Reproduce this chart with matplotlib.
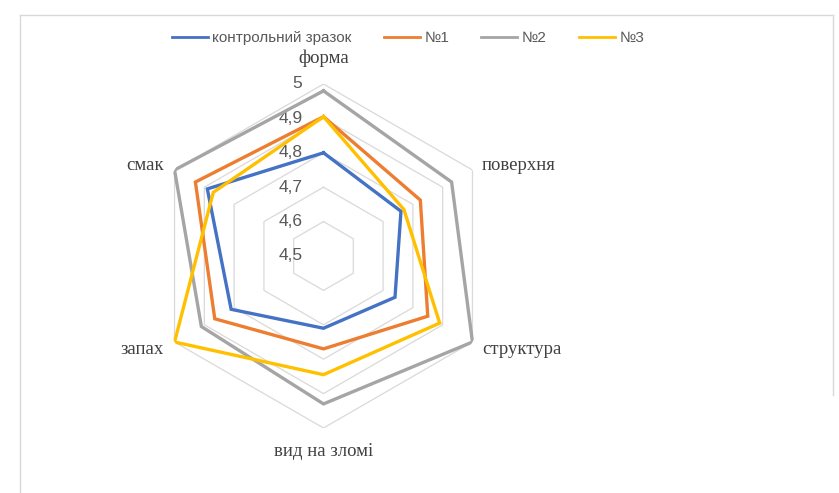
import numpy as np
import matplotlib
matplotlib.use('Agg')
import matplotlib.pyplot as plt
from matplotlib.lines import Line2D

# radar chart: sensory scores of the samples
categories = ['форма', 'поверхня', 'структура', 'вид на зломі', 'запах', 'смак']
control = [4.80, 4.76, 4.74, 4.71, 4.81, 4.89]
n1 = [4.905, 4.825, 4.85, 4.77, 4.865, 4.93]
n2 = [4.98, 4.93, 5.0, 4.93, 4.91, 5.0]
n3 = [4.905, 4.77, 4.89, 4.845, 5.0, 4.87]
series_names = ['контрольний зразок', '№1', '№2', '№3']
ticks = [4.5, 4.6, 4.7, 4.8, 4.9, 5.0]
tick_labels = ['4,5', '4,6', '4,7', '4,8', '4,9', '5']

colors = ['#4472C4', '#ED7D31', '#A5A5A5', '#FFC000']
sans = ['Liberation Sans', 'DejaVu Sans']
serif = ['Liberation Serif', 'DejaVu Serif']

W, H = 839, 493
fig = plt.figure(figsize=(W / 100, H / 100), dpi=100)
cx, cy, R = 323.5, 256, 172
ax = fig.add_axes([(cx - R) / W, (H - cy - R) / H, 2 * R / W, 2 * R / H], projection='polar')
ax.set_theta_offset(np.pi / 2)
ax.set_theta_direction(-1)
ax.set_ylim(4.5, 5.0)
ax.grid(False)
ax.spines['polar'].set_visible(False)
ax.set_xticks([])
ax.set_yticks([])
ax.patch.set_alpha(0)

angles = np.linspace(0, 2 * np.pi, len(categories), endpoint=False)
closed = np.append(angles, angles[0])

# hexagon grid (no spokes)
for t in ticks[1:]:
    ax.plot(closed, [t] * len(closed), color='#d9d9d9', lw=0.9, zorder=1)

for t, lab in zip(ticks, tick_labels):
    ax.annotate(lab, xy=(0, t), xytext=(-21, 0), textcoords='offset pixels',
                ha='right', va='center', fontsize=12.5, color='#595959', family=sans)

for vals, c in zip([control, n1, n2, n3], colors):
    v = np.append(vals, vals[0])
    ax.plot(closed, v, color=c, lw=2.4, zorder=3, solid_joinstyle='miter')

# category labels, offset from the outer ring vertex
label_off = [((0, 26), 'center'), ((9, 5), 'left'), ((10, -8), 'left'),
             ((0, -24), 'center'), ((-11, -7), 'right'), ((-11, 5), 'right')]
for a, name, (off, ha) in zip(angles, categories, label_off):
    ax.annotate(name, xy=(a, 5.0), xytext=off, textcoords='offset pixels',
                ha=ha, va='center', fontsize=13.5, color='#404040', family=serif,
                annotation_clip=False)

handles = [Line2D([], [], color=c, lw=2) for c in colors]
leg = fig.legend(handles, series_names, loc='center', bbox_to_anchor=(408 / W, 1 - 38 / H),
                 ncol=4, frameon=False, handlelength=2.35, columnspacing=2.1, handletextpad=0.3,
                 borderpad=0, prop={'family': sans, 'size': 11})
for t in leg.get_texts():
    t.set_color('#595959')

# chart frame
fig.add_artist(Line2D([20 / W, 833 / W], [1 - 15 / H, 1 - 15 / H], color='#d9d9d9', lw=1))
fig.add_artist(Line2D([20 / W, 20 / W], [1 - 15 / H, 0], color='#d9d9d9', lw=1))
fig.add_artist(Line2D([833 / W, 833 / W], [1 - 15 / H, 1 - 395 / H], color='#d9d9d9', lw=1))

fig.savefig('out.png', dpi=100)
